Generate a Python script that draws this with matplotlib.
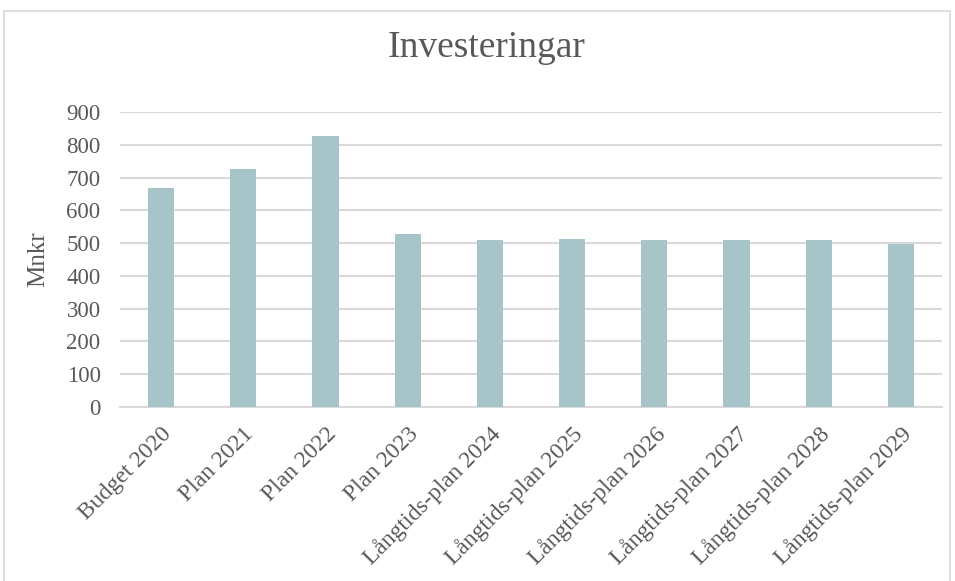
import matplotlib
matplotlib.use("Agg")
import matplotlib.pyplot as plt
from matplotlib.patches import Rectangle

categories = ["Budget 2020", "Plan 2021", "Plan 2022", "Plan 2023",
              "Långtids-plan 2024", "Långtids-plan 2025", "Långtids-plan 2026",
              "Långtids-plan 2027", "Långtids-plan 2028", "Långtids-plan 2029"]
values = [667, 725, 828, 527, 511, 514, 511, 508, 508, 496]
yticks = [0, 100, 200, 300, 400, 500, 600, 700, 800, 900]

plt.rcParams['font.family'] = ['Liberation Serif', 'DejaVu Serif']
txt = '#595959'

fig = plt.figure(figsize=(9.55, 5.81), dpi=100)
ax = fig.add_axes([120/955, 1 - 407/581, (942-120)/955, (407-112)/581])

x = list(range(len(categories)))
ax.bar(x, values, width=0.32, color='#a7c4c9', zorder=3)
ax.set_xlim(-0.5, len(categories) - 0.5)
ax.set_ylim(0, 900)
ax.set_yticks(yticks)
ax.set_yticklabels([str(v) for v in yticks], fontsize=16.5, color=txt)
ax.set_xticks(x)
ax.set_xticklabels(categories, rotation=45, ha='right', rotation_mode='anchor',
                   fontsize=17, color=txt)
ax.tick_params(axis='both', length=0)
ax.tick_params(axis='y', pad=14)
ax.tick_params(axis='x', pad=12)
ax.grid(axis='y', color='#d9d9d9', linewidth=1.5, zorder=0)
for s in ['top', 'right', 'left']:
    ax.spines[s].set_visible(False)
ax.spines['bottom'].set_color('#d9d9d9')
ax.spines['bottom'].set_linewidth(1.5)
ax.set_ylabel('Mnkr', fontsize=18, color=txt, labelpad=12)

fig.text(487/955, 1 - 48/581, 'Investeringar', ha='center', va='center',
         fontsize=27, color=txt)

border = Rectangle((4/955, -0.01), (950-4)/955, (581-11)/581 + 0.01,
                   transform=fig.transFigure, fill=False, edgecolor='#d9d9d9',
                   linewidth=1.2)
fig.patches.append(border)

fig.savefig('out.png', dpi=100)
